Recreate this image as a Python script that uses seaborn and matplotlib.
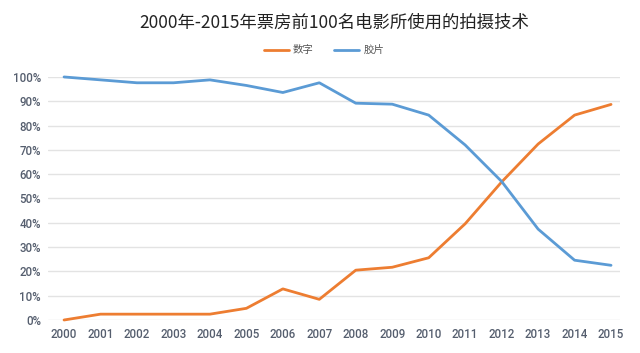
import pandas as pd
import seaborn as sns
import matplotlib.pyplot as plt
from matplotlib.ticker import FuncFormatter

# Data (percent of top-100 films)
years = list(range(2000, 2016))
digital = [0, 2.4, 2.4, 2.4, 2.4, 4.8, 12.8, 8.5, 20.5, 21.7, 25.6, 39.6, 56.8, 72.4, 84.3, 88.7]
film = [100, 98.8, 97.6, 97.6, 98.8, 96.5, 93.6, 97.6, 89.2, 88.8, 84.3, 72.0, 57.0, 37.4, 24.6, 22.5]
series_names = ['数字', '胶片']
series_colors = ['#ED7D31', '#5B9BD5']

df = pd.DataFrame({'year': years * 2,
                   'value': digital + film,
                   'series': [series_names[0]] * len(years) + [series_names[1]] * len(years)})

sns.set_theme(style='white')
plt.rcParams['font.family'] = ['Roboto', 'Noto Sans CJK SC', 'DejaVu Sans']

fig = plt.figure(figsize=(6.4, 3.53), dpi=100)
ax = fig.add_axes([0.075, 0.0935, 0.894, 0.6885])

sns.lineplot(data=df, x='year', y='value', hue='series', palette=series_colors,
             linewidth=2.0, ax=ax, legend=True)
for ln in ax.lines:
    ln.set_clip_on(False)
    ln.set_solid_joinstyle('round')

ax.set_xlim(1999.56, 2015.25)
ax.set_ylim(0, 100)
ax.set_yticks(range(0, 101, 10))
ax.set_xticks(years)
ax.yaxis.set_major_formatter(FuncFormatter(lambda v, p: f"{int(v)}%"))
ax.grid(axis='y', color='#e3e3e3', linewidth=1.0)
ax.set_axisbelow(True)
for s in ax.spines.values():
    s.set_visible(False)
ax.tick_params(axis='both', length=0, labelsize=8.3, labelcolor='#555e6e', pad=6)
for lab in ax.get_xticklabels() + ax.get_yticklabels():
    lab.set_fontweight('medium')
ax.tick_params(axis='y', pad=5)
ax.set_xlabel('')
ax.set_ylabel('')

handles, labels = ax.get_legend_handles_labels()
ax.get_legend().remove()
leg = fig.legend(handles, labels, loc='center', bbox_to_anchor=(0.506, 0.858), ncol=2,
                 frameon=False, handlelength=2.4, columnspacing=2.0,
                 handletextpad=0.4, prop={'family': ['Noto Sans CJK SC'], 'size': 7.5})
for t in leg.get_texts():
    t.set_color('#555555')

fig.text(0.523, 0.935, '2000年-2015年票房前100名电影所使用的拍摄技术', ha='center', va='center',
         fontsize=12.5, color='#222222', family=['Noto Sans CJK SC', 'DejaVu Sans'])

fig.savefig('out.png', dpi=100)
